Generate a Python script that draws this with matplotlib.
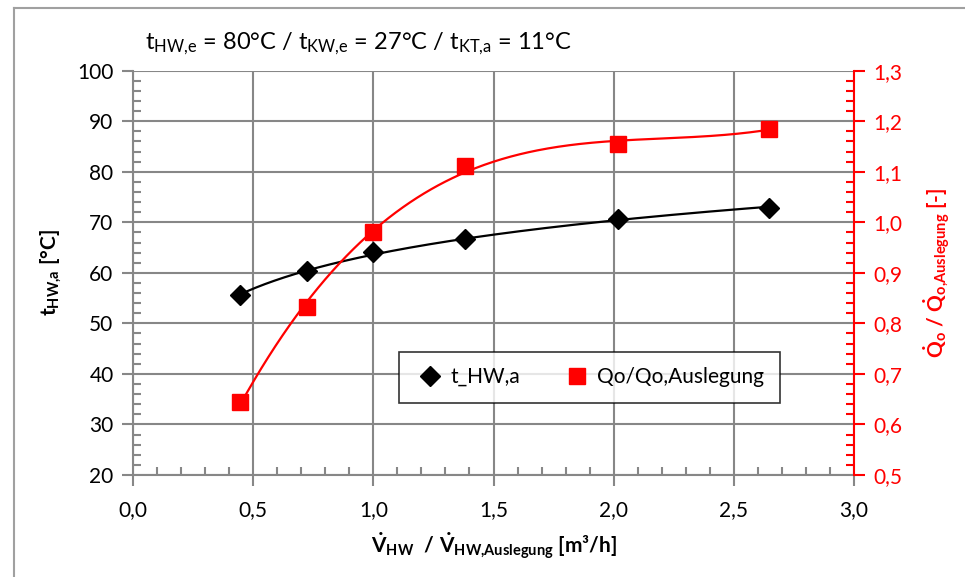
import numpy as np
import matplotlib
matplotlib.use("Agg")
import matplotlib.pyplot as plt
from matplotlib.ticker import MultipleLocator, FuncFormatter
from matplotlib.lines import Line2D

plt.rcParams['font.family'] = ['Lato', 'DejaVu Sans']
plt.rcParams['mathtext.fontset'] = 'custom'
plt.rcParams['mathtext.rm'] = 'Lato'
plt.rcParams['mathtext.it'] = 'Lato:italic'
plt.rcParams['mathtext.bf'] = 'Lato:bold'

# Volumenstrom-Verhaeltnis V_HW / V_HW,Auslegung
v_ratio = [0.446, 0.725, 1.0, 1.383, 2.017, 2.646]
# Heisswasser-Austrittstemperatur [°C]
t_hw_a = [55.6, 60.3, 64.1, 66.7, 70.6, 72.8]
# Kaelteleistung Qo / Qo,Auslegung [-]
q_ratio = [0.645, 0.833, 0.981, 1.112, 1.154, 1.185]

grey = '#878787'

fig = plt.figure(figsize=(9.65, 5.77), dpi=100)
ax = fig.add_axes([0.1378, 0.1768, 0.7472, 0.7007])
ax2 = ax.twinx()

# trendlines: logarithmic for temperature, 3rd order polynomial for capacity
x = np.array(v_ratio)
xs = np.linspace(x.min(), x.max(), 300)
a, b = np.polyfit(np.log(x), t_hw_a, 1)
ax.plot(xs, a * np.log(xs) + b, color='black', lw=1.6, zorder=3)
pc = np.polyfit(x, q_ratio, 3)
ax2.plot(xs, np.polyval(pc, xs), color='red', lw=1.6, zorder=3)

ax.plot(v_ratio, t_hw_a, ls='none', marker='D', ms=10, color='black', zorder=4)
ax2.plot(v_ratio, q_ratio, ls='none', marker='s', ms=11, color='red', zorder=4)

ax.set_xlim(0, 3)
ax.set_ylim(20, 100)
ax2.set_ylim(0.5, 1.3)

comma = FuncFormatter(lambda v, p: ('%.1f' % v).replace('.', ','))
ax.xaxis.set_major_locator(MultipleLocator(0.5))
ax.xaxis.set_minor_locator(MultipleLocator(0.1))
ax.xaxis.set_major_formatter(comma)
ax.yaxis.set_major_locator(MultipleLocator(10))
ax.yaxis.set_minor_locator(MultipleLocator(2))
ax2.yaxis.set_major_locator(MultipleLocator(0.1))
ax2.yaxis.set_minor_locator(MultipleLocator(0.02))
ax2.yaxis.set_major_formatter(comma)

ax.grid(True, which='major', color=grey, lw=1.5)
ax.set_axisbelow(True)

ax.spines['top'].set_visible(False)
ax2.spines['top'].set_visible(False)
ax.spines['right'].set_visible(False)
ax2.spines['left'].set_visible(False)
ax2.spines['bottom'].set_visible(False)
ax.spines['left'].set_color(grey)
ax.spines['bottom'].set_color(grey)
ax.spines['left'].set_linewidth(1.5)
ax.spines['bottom'].set_linewidth(1.5)
ax2.spines['right'].set_color('red')
ax2.spines['right'].set_linewidth(1.5)

ax.tick_params(which='major', direction='out', length=8, width=1.5, color=grey,
               labelsize=15, pad=6)
ax.tick_params(which='minor', direction='in', length=6, width=1.5, color=grey)
ax.tick_params(axis='x', pad=10)
ax2.tick_params(which='major', direction='out', length=8, width=1.5, color='red',
                labelsize=15, labelcolor='red', pad=6)
ax2.tick_params(which='minor', direction='in', length=6, width=1.5, color='red')

ax.set_xlabel(r'$\mathbf{\dot{V}_{HW}\ \ /\ \dot{V}_{HW{,}Auslegung}}$' + ' [m³/h]',
              fontsize=15, fontweight='bold', labelpad=8)
ax.set_ylabel(r'$\mathbf{t_{HW{,}a}}$' + ' [°C]', fontsize=15, fontweight='bold', labelpad=10)
ax2.set_ylabel(r'$\mathbf{\dot{Q}_{o}\ /\ \dot{Q}_{o{,}Auslegung}}$' + ' [-]', fontsize=15,
               fontweight='bold', color='red', rotation=90, labelpad=14)

fig.text(0.15, 0.925,
         r'$\mathregular{t_{HW{,}e}}$ = 80°C / $\mathregular{t_{KW{,}e}}$ = 27°C / '
         r'$\mathregular{t_{KT{,}a}}$ = 11°C', fontsize=17, va='center')

handles = [Line2D([], [], ls='none', marker='D', ms=10, color='black'),
           Line2D([], [], ls='none', marker='s', ms=11, color='red')]
leg = ax2.legend(handles, ['t_HW,a', 'Qo/Qo,Auslegung'], ncol=2, loc='center',
                 bbox_to_anchor=(0.633, 0.242), fontsize=15, frameon=True,
                 fancybox=False, edgecolor='black', handletextpad=0.2,
                 columnspacing=2.0, borderpad=0.75, handlelength=1.5)
leg.get_frame().set_linewidth(1.2)

# chart border like the original
fig.add_artist(Line2D([0.0145, 0.0145], [0, 0.986], color='#a0a0a0', lw=1.5,
                      transform=fig.transFigure))
fig.add_artist(Line2D([0.0145, 1.0], [0.986, 0.986], color='#a0a0a0', lw=1.5,
                      transform=fig.transFigure))

fig.savefig('out.png', dpi=100)
